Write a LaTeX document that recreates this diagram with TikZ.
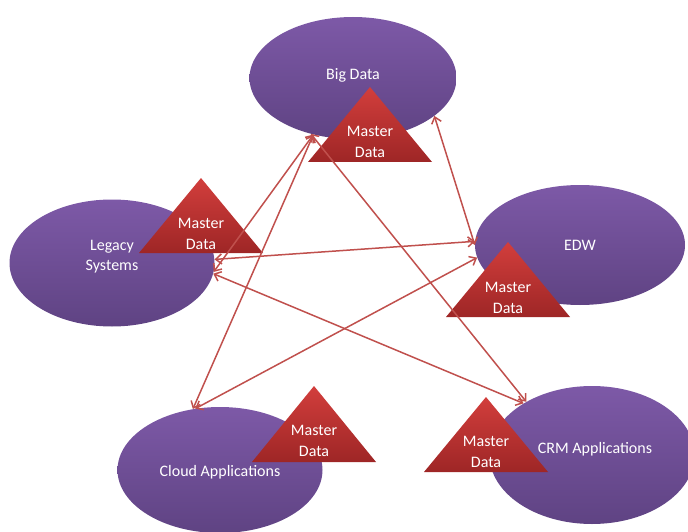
\documentclass[tikz,border=0pt]{standalone}
\usepackage{fontspec}
\setmainfont{Carlito}
\usetikzlibrary{shapes.geometric,arrows.meta}

\definecolor{ellTop}{RGB}{125,89,167}
\definecolor{ellBot}{RGB}{95,67,131}
\definecolor{triTop}{RGB}{210,62,60}
\definecolor{triBot}{RGB}{158,38,38}
\definecolor{linkRed}{RGB}{192,80,77}

\begin{document}
\begin{tikzpicture}[x=1pt,y=-1pt,
    sys/.style={ellipse, top color=ellTop, bottom color=ellBot, text=white,
        font=\fontsize{16}{20}\selectfont, align=center, inner sep=0pt},
    tri/.style={top color=triTop, bottom color=triBot},
    md/.style={text=white, font=\fontsize{16}{21}\selectfont, align=center},
    link/.style={draw=linkRed, line width=1.5pt,
        {Straight Barb[length=6pt,width=10pt]}-{Straight Barb[length=6pt,width=10pt]}}]
        \useasboundingbox (0,0) rectangle (688,532);

        \node[sys, minimum width=207, minimum height=122, text depth=8pt] (bigdata) at (353,78) {Big Data};
        \node[sys, minimum width=205, minimum height=127, text depth=16pt] (legacy) at (112,263) {Legacy\\Systems};
        \node[sys, minimum width=210, minimum height=120] (edw) at (580,245) {EDW};
        \node[sys, minimum width=205, minimum height=126, text height=16pt] (cloud) at (220,470) {Cloud Applications};
        \node[sys, minimum width=205, minimum height=138, text depth=14pt] (crm) at (592,455) {\hspace*{6pt}CRM Applications};

        % master data triangles
        \shade[tri] (370,87) -- (308,162) -- (432,162) -- cycle;
        \node[md] (bigmd) at (370,142) {Master\\Data};
        \shade[tri] (201,178) -- (139,253) -- (263,253) -- cycle;
        \node[md] (legmd) at (201,234) {Master\\Data};
        \shade[tri] (508,242) -- (446,317) -- (570,317) -- cycle;
        \node[md] (edwmd) at (508,298) {Master\\Data};
        \shade[tri] (314,386) -- (252,462) -- (376,462) -- cycle;
        \node[md] (cloudmd) at (314,441) {Master\\Data};
        \shade[tri] (486,397) -- (424,472) -- (548,472) -- cycle;
        \node[md] (crmmd) at (486,452) {Master\\Data};

        \draw[link] (bigdata.235) -- (legacy.-5);
        \draw[link] (bigdata.235) -- (cloud.114);
        \draw[link] (bigdata.233) -- (crm.141);
        \draw[link] (bigdata.335) -- (edw.180);
        \draw[link] (legacy.2) -- (edw.178);
        \draw[link] (legacy.-6) -- (crm.143);
        \draw[link] (cloud.112) -- (edw.187);
    \end{tikzpicture}
\end{document}
